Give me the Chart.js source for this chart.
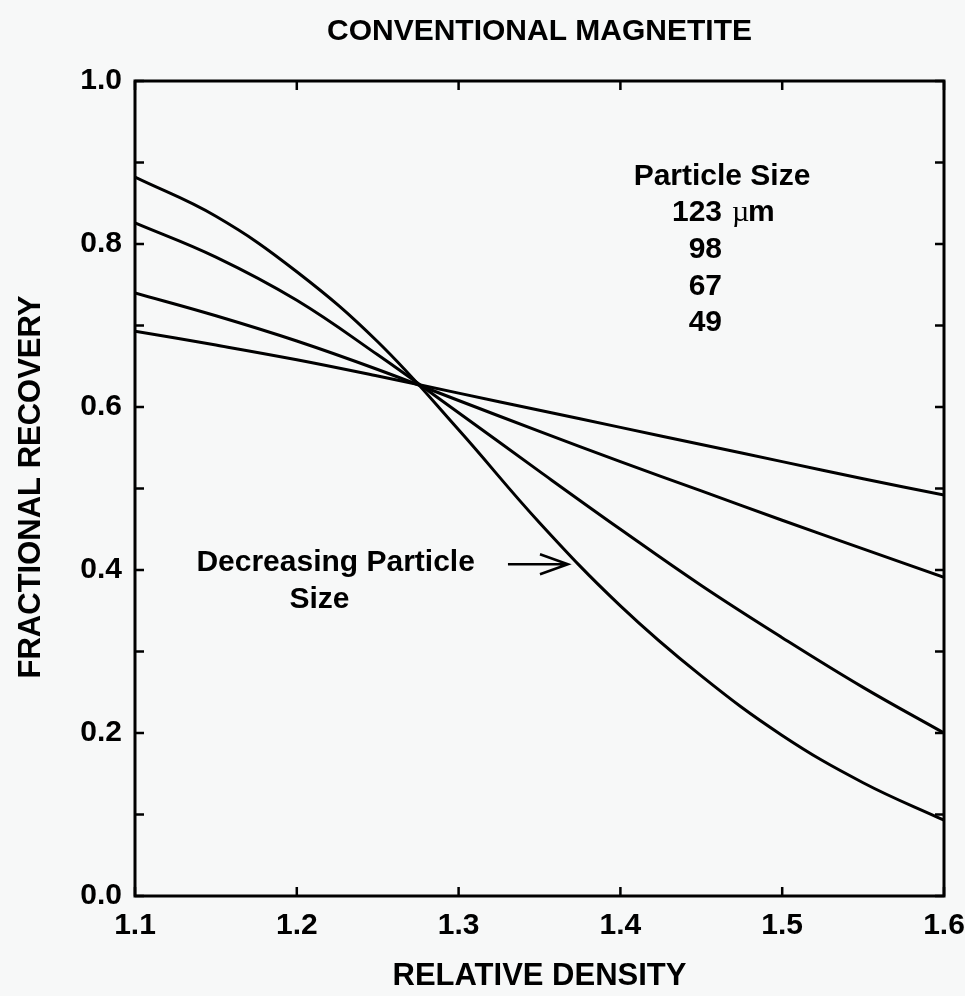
<!DOCTYPE html>
<html>
<head>
    <title>Conventional Magnetite</title>
    <script src="https://cdn.jsdelivr.net/npm/chart.js@4.4.3/dist/chart.umd.min.js"></script>
    <style>
        html, body {
            margin: 0;
            padding: 0;
            background: #f7f8f8;
        }

        .wrap {
            width: 965px;
            height: 996px;
        }
    </style>
</head>
<body>
    <div class="wrap">
        <canvas id="recovery"></canvas>
    </div>
    <script>
        // relative density (x) and fractional recovery for each particle size
        const density = [1.10, 1.15, 1.20, 1.25, 1.30, 1.35, 1.40, 1.45, 1.50, 1.55, 1.60]
        const rec123 = [0.882, 0.834, 0.766, 0.680, 0.572, 0.458, 0.356, 0.270, 0.197, 0.139, 0.093]
        const rec98 = [0.826, 0.784, 0.731, 0.664, 0.593, 0.521, 0.450, 0.381, 0.317, 0.256, 0.200]
        const rec67 = [0.740, 0.712, 0.681, 0.646, 0.608, 0.570, 0.533, 0.497, 0.461, 0.426, 0.391]
        const rec49 = [0.693, 0.676, 0.658, 0.638, 0.617, 0.596, 0.575, 0.554, 0.533, 0.512, 0.492]

        const sizeLabels = ['123', '98', '67', '49']

        const FONT = '"Liberation Sans", Arial, Helvetica, sans-serif'

        function toPoints(ys) {
            return density.map((x, i) => ({ x: x, y: ys[i] }))
        }

        function curve(label, ys) {
            return {
                label: label,
                data: toPoints(ys),
                borderColor: '#000',
                borderWidth: 3,
                pointRadius: 0,
                fill: false,
                tension: 0.4
            }
        }

        // frame, inward ticks, titles and notes
        const decor = {
            id: 'decor',
            afterDraw(chart) {
                const ctx = chart.ctx
                const a = chart.chartArea
                const xs = chart.scales.x
                const ys = chart.scales.y
                const tick = 9

                ctx.save()
                ctx.strokeStyle = '#000'
                ctx.lineWidth = 3
                ctx.strokeRect(a.left, a.top, a.right - a.left, a.bottom - a.top)

                ctx.lineWidth = 2.5
                ctx.beginPath()
                xs.ticks.forEach(t => {
                    const px = xs.getPixelForValue(t.value)
                    ctx.moveTo(px, a.bottom); ctx.lineTo(px, a.bottom - tick)
                    ctx.moveTo(px, a.top); ctx.lineTo(px, a.top + tick)
                })
                ys.ticks.forEach(t => {
                    const py = ys.getPixelForValue(t.value)
                    ctx.moveTo(a.left, py); ctx.lineTo(a.left + tick, py)
                    ctx.moveTo(a.right, py); ctx.lineTo(a.right - tick, py)
                })
                ctx.stroke()

                ctx.fillStyle = '#000'
                ctx.textBaseline = 'middle'

                // titles
                ctx.textAlign = 'center'
                ctx.font = 'bold 30px ' + FONT
                ctx.fillText('CONVENTIONAL MAGNETITE', (a.left + a.right) / 2, 32)
                ctx.font = 'bold 31px ' + FONT
                ctx.fillText('RELATIVE DENSITY', (a.left + a.right) / 2, 976)
                ctx.save()
                ctx.translate(31, 487)
                ctx.rotate(-Math.PI / 2)
                ctx.fillText('FRACTIONAL RECOVERY', 0, 0)
                ctx.restore()

                // particle size key
                ctx.font = 'bold 30px ' + FONT
                const kx = xs.getPixelForValue(1.4628)
                ctx.fillText('Particle Size', kx, ys.getPixelForValue(0.882))
                ctx.textAlign = 'right'
                const rows = [0.838, 0.793, 0.748, 0.704]
                sizeLabels.forEach((s, i) => {
                    ctx.fillText(s, kx, ys.getPixelForValue(rows[i]))
                })
                ctx.textAlign = 'left'
                ctx.font = '30px "Liberation Serif", serif'
                ctx.fillText('\u00b5', kx + 10, ys.getPixelForValue(rows[0]))
                ctx.font = 'bold 30px ' + FONT
                ctx.fillText('m', kx + 26, ys.getPixelForValue(rows[0]))

                // arrow note
                ctx.textAlign = 'center'
                ctx.fillText('Decreasing Particle', xs.getPixelForValue(1.224), ys.getPixelForValue(0.409))
                ctx.fillText('Size', xs.getPixelForValue(1.214), ys.getPixelForValue(0.363))

                const x0 = xs.getPixelForValue(1.3305)
                const x1 = xs.getPixelForValue(1.3676)
                const ay = ys.getPixelForValue(0.407)
                ctx.lineWidth = 2.5
                ctx.beginPath()
                ctx.moveTo(x0, ay); ctx.lineTo(x1, ay)
                ctx.moveTo(x1 - 28, ay - 10); ctx.lineTo(x1, ay); ctx.lineTo(x1 - 28, ay + 10)
                ctx.stroke()

                ctx.restore()
            }
        }

        new Chart(document.getElementById('recovery'), {
            type: 'line',
            data: {
                datasets: [
                    curve('123', rec123),
                    curve('98', rec98),
                    curve('67', rec67),
                    curve('49', rec49)
                ]
            },
            options: {
                responsive: true,
                maintainAspectRatio: false,
                animation: false,
                layout: {
                    padding: { left: 0, top: 81, right: 21, bottom: 0 }
                },
                plugins: {
                    legend: { display: false },
                    tooltip: { enabled: false }
                },
                scales: {
                    x: {
                        type: 'linear',
                        min: 1.1,
                        max: 1.6,
                        grid: { display: false },
                        border: { display: false },
                        afterFit(scale) {
                            scale.height = 100
                            scale.paddingLeft = 0
                            scale.paddingRight = 0
                        },
                        ticks: {
                            stepSize: 0.1,
                            padding: 4,
                            color: '#000',
                            font: { family: FONT, size: 30, weight: 'bold' },
                            callback: v => v.toFixed(1)
                        }
                    },
                    y: {
                        min: 0,
                        max: 1,
                        grid: { display: false },
                        border: { display: false },
                        afterFit(scale) {
                            scale.width = 135
                            scale.paddingTop = 0
                            scale.paddingBottom = 0
                        },
                        ticks: {
                            stepSize: 0.1,
                            padding: 5,
                            color: '#000',
                            font: { family: FONT, size: 30, weight: 'bold' },
                            callback: v => Math.round(v * 10) % 2 === 0 ? v.toFixed(1) : ''
                        }
                    }
                }
            },
            plugins: [decor]
        })
    </script>
</body>
</html>
